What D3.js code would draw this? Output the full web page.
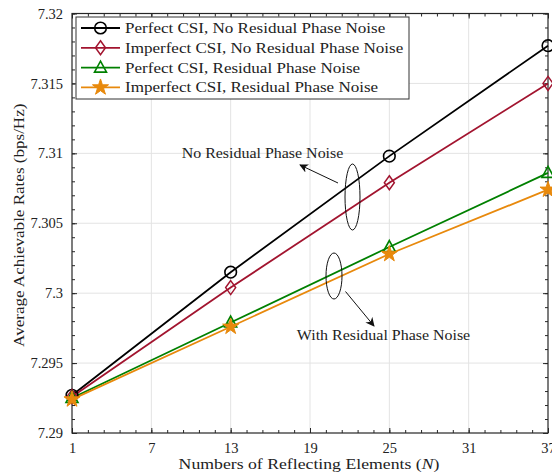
<!DOCTYPE html>
<html>
<head>
<meta charset="utf-8">
<script src="https://cdn.jsdelivr.net/npm/d3@7"></script>
<style>
  html, body { margin: 0; padding: 0; background: #fff; }
  svg { display: block; }
  text { font-family: "Liberation Serif", "Times New Roman", serif; fill: #222; }
</style>
</head>
<body>
<div id="chart"></div>
<script>
// Number of reflecting elements
const elements = [1, 13, 25, 37];

// Achievable rate (bps/Hz) for each scenario
const perfectNoRPN   = [7.2927, 7.3015, 7.3098, 7.3177];
const imperfectNoRPN = [7.2926, 7.3004, 7.3079, 7.3150];
const perfectRPN     = [7.2925, 7.2979, 7.3033, 7.3086];
const imperfectRPN   = [7.2924, 7.2976, 7.3028, 7.3074];

const seriesNames = [
  "Perfect CSI, No Residual Phase Noise",
  "Imperfect CSI, No Residual Phase Noise",
  "Perfect CSI, Residual Phase Noise",
  "Imperfect CSI, Residual Phase Noise"
];

const xTicks = [1, 7, 13, 19, 25, 31, 37];
const yTicks = [7.29, 7.295, 7.3, 7.305, 7.31, 7.315, 7.32];
const yTickLabels = ["7.29", "7.295", "7.3", "7.305", "7.31", "7.315", "7.32"];

const series = [
  { name: seriesNames[0], values: perfectNoRPN,   color: "#000000", marker: "circle" },
  { name: seriesNames[1], values: imperfectNoRPN, color: "#a2142f", marker: "diamond" },
  { name: seriesNames[2], values: perfectRPN,     color: "#008000", marker: "triangle" },
  { name: seriesNames[3], values: imperfectRPN,   color: "#e8890c", marker: "star" }
];

const W = 552, H = 472;
const margin = { left: 72, right: 4, top: 13.5, bottom: 39 };
const iw = W - margin.left - margin.right;
const ih = H - margin.top - margin.bottom;

// serif text is drawn slightly widened to get a book-face proportion
const WIDEN = 1.1;

const svg = d3.select("#chart").append("svg").attr("width", W).attr("height", H);
const g = svg.append("g").attr("transform", `translate(${margin.left},${margin.top})`);

const x = d3.scaleLinear().domain([1, 37]).range([0, iw]);
const y = d3.scaleLinear().domain([7.29, 7.32]).range([ih, 0]);

// grid
g.append("g").selectAll("line").data(xTicks.slice(1, -1)).join("line")
  .attr("x1", d => x(d)).attr("x2", d => x(d)).attr("y1", 0).attr("y2", ih)
  .attr("stroke", "#e3e3e3").attr("stroke-width", 1);
g.append("g").selectAll("line").data(yTicks.slice(1, -1)).join("line")
  .attr("y1", d => y(d)).attr("y2", d => y(d)).attr("x1", 0).attr("x2", iw)
  .attr("stroke", "#e3e3e3").attr("stroke-width", 1);

// axes with inward ticks (minor every 1.2 on x, every 0.001 on y)
const xMinor = d3.range(0, 31).map(i => 1 + i * 1.2);
const yMinor = d3.range(0, 31).map(i => 7.29 + i * 0.001);

function axisGroup(axis, tr) {
  const a = g.append("g").attr("transform", tr).call(axis);
  a.select(".domain").remove();
  a.selectAll("line").attr("stroke", "#262626");
  return a;
}
// minor ticks
axisGroup(d3.axisBottom(x).tickValues(xMinor).tickSize(-3).tickFormat(""), `translate(0,${ih})`);
axisGroup(d3.axisTop(x).tickValues(xMinor).tickSize(-3).tickFormat(""), `translate(0,0)`);
axisGroup(d3.axisLeft(y).tickValues(yMinor).tickSize(-3).tickFormat(""), `translate(0,0)`);
axisGroup(d3.axisRight(y).tickValues(yMinor).tickSize(-3).tickFormat(""), `translate(${iw},0)`);
// major ticks with labels
const xa = axisGroup(d3.axisBottom(x).tickValues(xTicks).tickSize(-5).tickPadding(10).tickFormat(d3.format("d")), `translate(0,${ih})`);
xa.selectAll("text").attr("font-size", 14.5).attr("font-family", "Liberation Serif").attr("fill", "#222");
axisGroup(d3.axisTop(x).tickValues(xTicks).tickSize(-5).tickFormat(""), `translate(0,0)`);
const ya = axisGroup(d3.axisLeft(y).tickValues(yTicks).tickSize(-5).tickPadding(9).tickFormat((d, i) => yTickLabels[i]), `translate(0,0)`);
ya.selectAll("text").attr("font-size", 14.5).attr("font-family", "Liberation Serif").attr("fill", "#222");
axisGroup(d3.axisRight(y).tickValues(yTicks).tickSize(-5).tickFormat(""), `translate(${iw},0)`);

// frame
g.append("rect").attr("width", iw).attr("height", ih).attr("fill", "none")
  .attr("stroke", "#262626").attr("stroke-width", 1.2);

// axis titles
const xt = svg.append("text")
  .attr("transform", `translate(${margin.left + iw / 2 - 1},469) scale(${WIDEN * 1.04},1)`)
  .attr("text-anchor", "middle").attr("font-size", 15.5);
xt.append("tspan").text("Numbers of Reflecting Elements (");
xt.append("tspan").attr("font-style", "italic").text("N");
xt.append("tspan").text(")");

svg.append("text")
  .attr("transform", `translate(24,${margin.top + ih / 2 + 2}) rotate(-90) scale(${WIDEN},1)`)
  .attr("text-anchor", "middle").attr("font-size", 15.5)
  .text("Average Achievable Rates (bps/Hz)");

// marker drawing
function drawMarker(sel, type, color) {
  if (type === "circle") {
    sel.append("circle").attr("r", 5.8).attr("fill", "none").attr("stroke", color).attr("stroke-width", 1.6);
  } else if (type === "diamond") {
    sel.append("path").attr("d", "M0,-7L5,0L0,7L-5,0Z").attr("fill", "none").attr("stroke", color).attr("stroke-width", 1.5);
  } else if (type === "triangle") {
    sel.append("path").attr("d", "M0,-6.5L6,4.5L-6,4.5Z").attr("fill", "none").attr("stroke", color).attr("stroke-width", 1.6);
  } else {
    sel.append("path").attr("d", d3.symbol(d3.symbolStar, 80)()).attr("fill", color).attr("stroke", color).attr("stroke-width", 1);
  }
}

const line = d3.line().x((d, i) => x(elements[i])).y(d => y(d));

series.forEach(s => {
  g.append("path").datum(s.values).attr("d", line)
    .attr("fill", "none").attr("stroke", s.color).attr("stroke-width", 1.8);
});
series.forEach(s => {
  s.values.forEach((v, i) => {
    const m = g.append("g").attr("transform", `translate(${x(elements[i])},${y(v)})`);
    drawMarker(m, s.marker, s.color);
  });
});

// annotations: grouping ellipses with arrows pointing to their labels
svg.append("defs").append("marker").attr("id", "arrow").attr("viewBox", "0 0 10 10")
  .attr("refX", 9).attr("refY", 5).attr("markerWidth", 9).attr("markerHeight", 9)
  .attr("orient", "auto-start-reverse")
  .append("path").attr("d", "M0,0L10,5L0,10L3,5Z").attr("fill", "#111");

svg.append("text").attr("transform", `translate(262.5,158) scale(${WIDEN},1)`).attr("text-anchor", "middle")
  .attr("font-size", 14.5).text("No Residual Phase Noise");
svg.append("ellipse").attr("cx", 352.5).attr("cy", 197).attr("rx", 7.5).attr("ry", 33)
  .attr("fill", "none").attr("stroke", "#111").attr("stroke-width", 1);
svg.append("line").attr("x1", 338).attr("y1", 183).attr("x2", 300).attr("y2", 165)
  .attr("stroke", "#111").attr("stroke-width", 1).attr("marker-end", "url(#arrow)");

svg.append("ellipse").attr("cx", 334).attr("cy", 276).attr("rx", 8).attr("ry", 23)
  .attr("fill", "none").attr("stroke", "#111").attr("stroke-width", 1);
svg.append("line").attr("x1", 345.5).attr("y1", 291.5).attr("x2", 374).attr("y2", 326)
  .attr("stroke", "#111").attr("stroke-width", 1).attr("marker-end", "url(#arrow)");
svg.append("text").attr("transform", `translate(383.5,340) scale(${WIDEN},1)`).attr("text-anchor", "middle")
  .attr("font-size", 14.5).text("With Residual Phase Noise");

// legend
const lg = svg.append("g").attr("transform", "translate(76,17)");
lg.append("rect").attr("width", 333).attr("height", 82).attr("fill", "#fff")
  .attr("stroke", "#333").attr("stroke-width", 1);
series.forEach((s, i) => {
  const row = lg.append("g").attr("transform", `translate(0,${11 + i * 19.8})`);
  row.append("line").attr("x1", 5).attr("x2", 44).attr("stroke", s.color).attr("stroke-width", 1.8);
  drawMarker(row.append("g").attr("transform", "translate(24.5,0)"), s.marker, s.color);
  row.append("text").attr("transform", `translate(49,5) scale(${WIDEN},1)`)
    .attr("font-size", 15.5).text(s.name);
});
</script>
</body>
</html>
